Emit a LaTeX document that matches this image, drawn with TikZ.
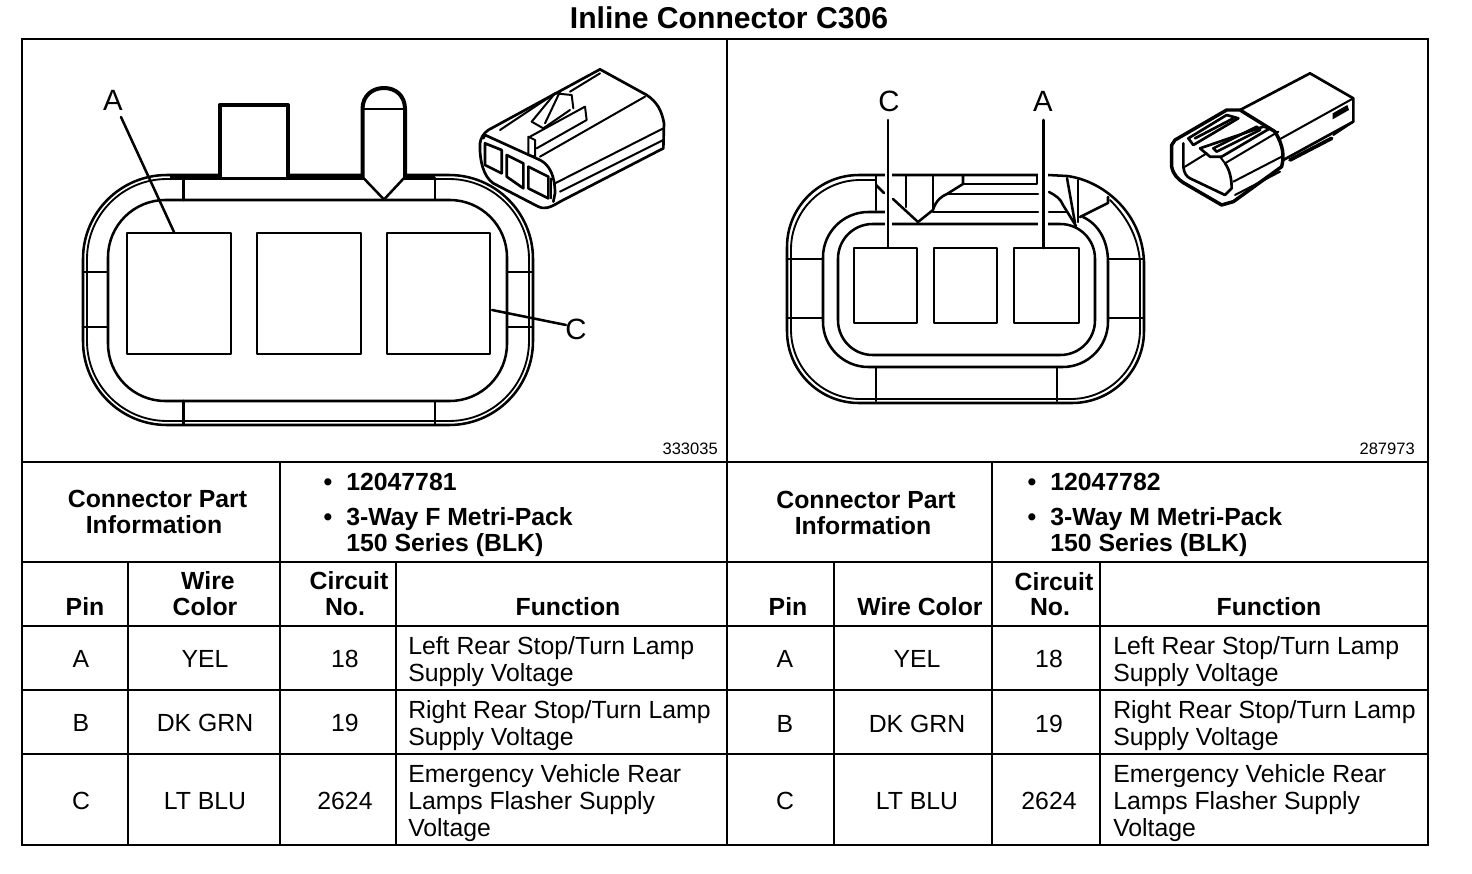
\documentclass[tikz,border=0pt]{standalone}
\usepackage{fontspec}
\setmainfont{Liberation Sans}
\tikzset{
 x=0.75pt,y=-0.75pt,
 tbl/.style={line width=1.9pt,line cap=rect},
 ln/.style={line width=1.9pt,line join=round,line cap=round},
 thk/.style={line width=3pt,line join=round},
 rct/.style={line width=2.2pt,line join=round},
 thn/.style={line width=1.4pt,line join=round,line cap=round},
 mini/.style={line width=1.5pt,line join=round,line cap=round},
 minib/.style={line width=2pt,line join=round,line cap=round},
 bc/.style={font=\fontsize{18.6pt}{20pt}\selectfont,inner sep=0pt,anchor=base},
 bl/.style={font=\fontsize{18.6pt}{20pt}\selectfont,inner sep=0pt,anchor=base west},
 hc/.style={font=\fontsize{18.6pt}{20pt}\selectfont\bfseries,inner sep=0pt,anchor=base},
 hl/.style={font=\fontsize{18.6pt}{20pt}\selectfont\bfseries,inner sep=0pt,anchor=base west},
 callout/.style={font=\fontsize{22pt}{24pt}\selectfont,inner sep=0pt,anchor=center},
 refno/.style={font=\fontsize{12.4pt}{14pt}\selectfont,inner sep=0pt,anchor=base east},
 ttl/.style={font=\fontsize{22.6pt}{24pt}\selectfont\bfseries,inner sep=0pt,anchor=base},
}
\begin{document}
\begin{tikzpicture}
\useasboundingbox (0,0) rectangle (1472,874);
\fill[white] (0,0) rectangle (1472,874);
\node[ttl] (title) at (729,29) {Inline Connector C306};
% ---- table grid
\draw[tbl] (22,39) rectangle (1428,845);
\draw[tbl] (727,39) -- (727,845);
\draw[tbl] (22,462) -- (1428,462);
\foreach \yy in {562,626,690,754} \draw[tbl] (22,\yy) -- (1428,\yy);
\foreach \xx in {280,992} \draw[tbl] (\xx,462) -- (\xx,845);
\foreach \xx in {128,396,834,1100} \draw[tbl] (\xx,562) -- (\xx,845);
% ---- left connector
\draw[ln,rounded corners=63pt] (83,175) rectangle (533,425);
\draw[thn,rounded corners=60pt] (87,179) rectangle (529,421);
\draw[ln,rounded corners=43pt] (108,200) rectangle (507,401);
\draw[line width=3.6pt] (170,177) -- (435,177);
\draw[ln] (183.5,178) -- (183.5,200);
\draw[ln] (435,178) -- (435,200);
\draw[ln] (183.5,401) -- (183.5,424);
\draw[ln] (435,401) -- (435,424);
\draw[ln] (83,272) -- (108,272);
\draw[ln] (83,327) -- (108,327);
\draw[ln] (507,272) -- (533,272);
\draw[ln] (507,327) -- (533,327);
\draw[thk,fill=white] (219.5,177) -- (219.5,105) -- (288,105) -- (288,177);
\fill[white] (364,109) rectangle (404,177);
\draw[thk] (362.5,177) -- (362.5,109) .. controls (362.5,96) and (372,88) .. (384,88) .. controls (396,88) and (405,96) .. (405,109) -- (405,177);
\draw[ln] (362.5,109) -- (405,109);
\fill[white] (364,177) -- (404,177) -- (384,198) -- cycle;
\draw[ln] (362.5,177) -- (384,199.5) -- (405,177);
\draw[rct] (127,233) rectangle (231,354);
\draw[rct] (257,233) rectangle (361,354);
\draw[rct] (387,233) rectangle (490,354);
\node[callout] (la) at (113,100) {A};
\node[callout] (lc) at (576,329) {C};
\coordinate (laS) at (121,117);
\coordinate (laE) at (174,232);
\coordinate (lcS) at (566,325);
\coordinate (lcE) at (492,310);
\draw[ln] (laS) -- (laE);
\draw[ln] (lcS) -- (lcE);
% ---- left mini connector
\begin{scope}[shift={(460,60)},x=0.25pt,y=-0.25pt]
\draw[minib] (60,250) .. controls (58,300) and (70,350) .. (100,370) -- (235,440) .. controls (250,447) and (265,447) .. (300,425) -- (610,265) -- (612,190) .. controls (605,150) and (590,125) .. (560,105) -- (420,28) -- (85,210) .. controls (70,220) and (62,235) .. (60,250);
\draw[minib] (70,235) -- (75,225) -- (240,300) .. controls (270,315) and (285,350) .. (285,400) -- (280,425);
\draw[mini] (120,210) -- (285,100);
\draw[mini] (330,95) -- (420,40);
\draw[mini] (240,290) -- (555,110);
\draw[mini] (285,370) -- (610,205);
\draw[mini] (300,395) -- (610,240);
\draw[mini] (215,185) -- (285,100) -- (335,105) -- (340,145);
\draw[mini] (215,185) -- (250,205) -- (330,150);
\draw[mini] (300,95) -- (255,190);
\draw[mini] (210,230) -- (375,140) -- (380,180) -- (230,265);
\draw[mini] (205,230) -- (205,285) -- (225,290) -- (225,240) -- cycle;
\draw[minib] (75,250) -- (125,270) -- (125,340) -- (75,315) -- cycle;
\draw[minib] (140,285) -- (190,310) -- (190,385) -- (140,350) -- cycle;
\draw[minib] (205,320) -- (265,350) -- (265,415) -- (205,385) -- cycle;
\draw[mini] (272,355) -- (272,415);
\end{scope}
\node[refno] (r1) at (718,454) {333035};
% ---- right connector
\draw[ln,rounded corners=54pt] (1144,262) -- (1144,403) -- (787,403) -- (787,175) -- (1048,175);
\draw[ln] (1048,175) -- (1067,176) .. controls (1100,180) and (1142,210) .. (1144,262);
\draw[thn,rounded corners=52pt] (876,180) -- (791,180) -- (791,399) -- (1140,399) -- (1140,262);
\draw[thn] (1140,262) .. controls (1138,235) and (1125,215) .. (1110,200);
\draw[ln,rounded corners=34pt] (885,212) -- (823,212) -- (823,367) -- (1108,367) -- (1108,262);
\draw[ln] (1108,262) .. controls (1108,240) and (1098,224) .. (1083,217);
\draw[ln,rounded corners=26pt] (838,224) rectangle (1095,355);
\fill[white] (884.5,170) rectangle (892,230);
\fill[white] (1038,170) rectangle (1048,230);
\draw[ln] (876,176) -- (876,210);
\draw[ln] (876,185) -- (884,193);
\draw[ln] (906,176) -- (906,207);
\draw[ln] (893,199) -- (918,222) -- (933,210);
\draw[ln] (933,176) -- (933,210);
\draw[ln] (933,210) .. controls (936,200) and (942,196) .. (947,194) -- (963,184) -- (963,176);
\draw[ln] (947,194) -- (1038,194);
\draw[ln] (963,184) -- (1037,184) -- (1037,176);
\draw[ln] (933,212) -- (1038,212);
\draw[ln] (1049,192) .. controls (1055,195) and (1061,199) .. (1063,205) -- (1076,226);
\draw[ln] (1067,178) -- (1075,223);
\draw[ln] (1078,180) -- (1078,222);
\draw[ln] (1080,217) -- (1108,203) -- (1108,197);
\draw[ln] (1049,212) -- (1067,212);
\draw[ln] (787,259) -- (823,259);
\draw[ln] (787,318) -- (823,318);
\draw[ln] (1108,259) -- (1144,259);
\draw[ln] (1108,318) -- (1144,318);
\draw[ln] (876,367) -- (876,401);
\draw[ln] (1057,367) -- (1057,401);
\draw[rct] (854,248) rectangle (917,323);
\draw[rct] (934,248) rectangle (997,323);
\draw[rct] (1014,248) rectangle (1079,323);
\node[callout] (rc) at (889,101) {C};
\node[callout] (ra) at (1043,101) {A};
\coordinate (rcS) at (888,120);
\coordinate (rcE) at (888,248);
\coordinate (raS) at (1043.5,120);
\coordinate (raE) at (1043.5,248);
\draw[ln] (rcS) -- (rcE);
\draw[ln] (raS) -- (raE);
% ---- right mini connector
\begin{scope}[shift={(1150,60)},x=0.25pt,y=-0.25pt]
\draw[line width=2.6pt,line join=round] (65,255) -- (65,320) .. controls (70,345) and (85,358) .. (100,368) -- (215,435) -- (250,425) -- (395,320) .. controls (402,290) and (402,260) .. (375,215) -- (270,150) -- (230,150) -- (75,240) -- cycle;
\draw[minib] (270,150) -- (480,40) -- (610,115) -- (610,185) -- (400,300);
\draw[minib] (100,250) -- (100,320) .. controls (102,340) and (110,350) .. (120,355) -- (225,405) -- (245,385) .. controls (245,360) and (240,330) .. (225,310);
\draw[mini] (105,320) -- (170,280);
\draw[minib] (115,235) -- (230,165) -- (265,175) -- (130,255) -- cycle;
\draw[minib] (135,235) -- (250,175);
\draw[minib] (150,265) -- (340,200) -- (360,205) -- (215,290) -- (180,290) -- cycle;
\draw[minib] (190,265) -- (320,200) -- (330,210) -- (200,275) -- cycle;
\draw[mini] (210,290) -- (225,310) -- (385,215);
\draw[mini] (385,240) -- (610,115);
\draw[mini] (250,365) -- (395,290);
\draw[mini] (255,405) -- (390,335);
\draw[line width=2.8pt,line cap=round] (420,300) -- (545,235);
\draw[mini] (550,225) -- (610,185);
\fill (548,160) -- (592,135) -- (597,150) -- (548,178) -- cycle;
\end{scope}
\node[refno] (r2) at (1415,454) {287973};
% ---- part info
\node[hc] (p1a) at (157.5,507) {Connector Part};
\node[hc] (p1b) at (154,533) {Information};
\node[hc] (p1d) at (328,490) {•};
\node[hl] (p1c) at (346,490) {12047781};
\node[hc] (p1e) at (328,525) {•};
\node[hl] (p1f) at (346,525) {3-Way F Metri-Pack};
\node[hl] (p1g) at (346,551) {150 Series (BLK)};
\node[hc] (p2a) at (866,508) {Connector Part};
\node[hc] (p2b) at (863,534) {Information};
\node[hc] (p2d) at (1032,490) {•};
\node[hl] (p2c) at (1050,490) {12047782};
\node[hc] (p2e) at (1032,525) {•};
\node[hl] (p2f) at (1050,525) {3-Way M Metri-Pack};
\node[hl] (p2g) at (1050,551) {150 Series (BLK)};
% ---- headers
\node[hc] (h1) at (85,615) {Pin};
\node[hc] (h2) at (208,589) {Wire};
\node[hc] (h3) at (205,615) {Color};
\node[hc] (h4) at (349,589) {Circuit};
\node[hc] (h5) at (345,615) {No.};
\node[hc] (h6) at (568,615) {Function};
\node[hc] (h7) at (788,615) {Pin};
\node[hc] (h8) at (920,615) {Wire Color};
\node[hc] (h9) at (1054,590) {Circuit};
\node[hc] (h10) at (1050,615) {No.};
\node[hc] (h11) at (1269,615) {Function};
% ---- left rows
\node[bc] (a1) at (81,667) {A};
\node[bc] (a2) at (205,667) {YEL};
\node[bc] (a3) at (345,667) {18};
\node[bl] (a4) at (408,654) {Left Rear Stop/Turn Lamp};
\node[bl] (a5) at (408,681) {Supply Voltage};
\node[bc] (b1) at (81,731) {B};
\node[bc] (b2) at (205,731) {DK GRN};
\node[bc] (b3) at (345,731) {19};
\node[bl] (b4) at (408,718) {Right Rear Stop/Turn Lamp};
\node[bl] (b5) at (408,745) {Supply Voltage};
\node[bc] (c1) at (81,809) {C};
\node[bc] (c2) at (205,809) {LT BLU};
\node[bc] (c3) at (345,809) {2624};
\node[bl] (c4) at (408,782) {Emergency Vehicle Rear};
\node[bl] (c5) at (408,809) {Lamps Flasher Supply};
\node[bl] (c6) at (408,836) {Voltage};
% ---- right rows
\node[bc] (d1) at (785,667) {A};
\node[bc] (d2) at (917,667) {YEL};
\node[bc] (d3) at (1049,667) {18};
\node[bl] (d4) at (1113,654) {Left Rear Stop/Turn Lamp};
\node[bl] (d5) at (1113,681) {Supply Voltage};
\node[bc] (e1) at (785,732) {B};
\node[bc] (e2) at (917,732) {DK GRN};
\node[bc] (e3) at (1049,732) {19};
\node[bl] (e4) at (1113,718) {Right Rear Stop/Turn Lamp};
\node[bl] (e5) at (1113,745) {Supply Voltage};
\node[bc] (f1) at (785,809) {C};
\node[bc] (f2) at (917,809) {LT BLU};
\node[bc] (f3) at (1049,809) {2624};
\node[bl] (f4) at (1113,782) {Emergency Vehicle Rear};
\node[bl] (f5) at (1113,809) {Lamps Flasher Supply};
\node[bl] (f6) at (1113,836) {Voltage};
\end{tikzpicture}
\end{document}
